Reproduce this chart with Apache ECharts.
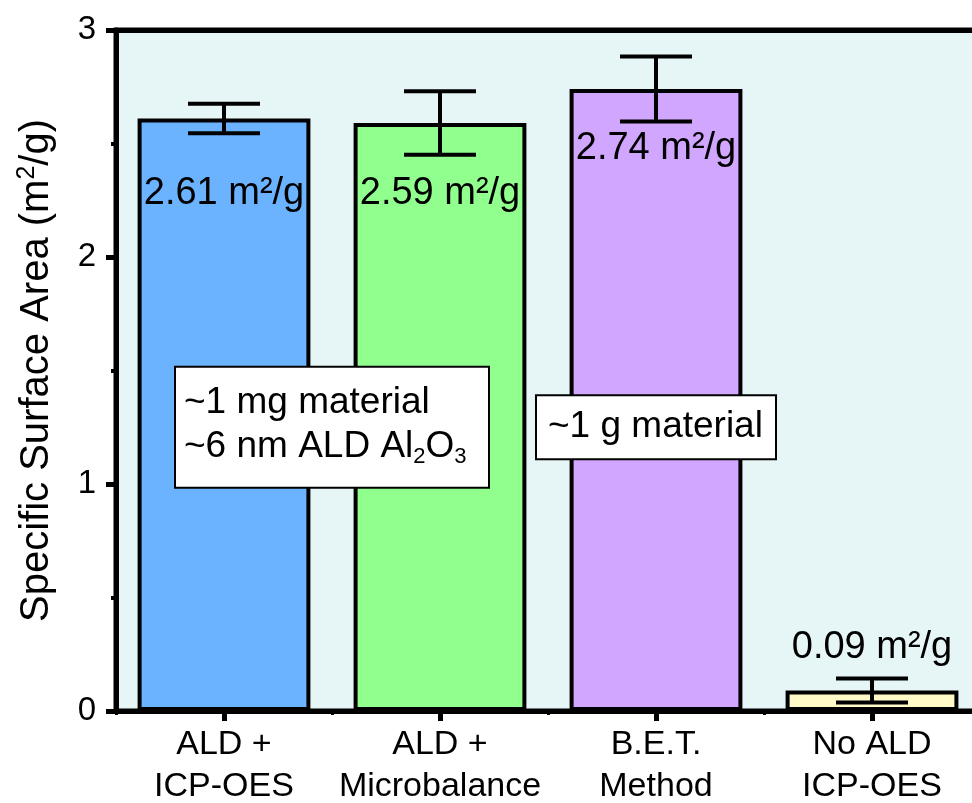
<!DOCTYPE html>
<html>
<head>
<meta charset="utf-8">
<title>Specific Surface Area</title>
<script src="https://cdn.jsdelivr.net/npm/echarts@6/dist/echarts.min.js"></script>
<style>
  html, body { margin: 0; padding: 0; background: #ffffff; }
  #chart { width: 972px; height: 803px; }
</style>
</head>
<body>
<div id="chart"></div>
<script>
// Measurement methods and results
const categories = ['ALD +\nICP-OES', 'ALD +\nMicrobalance', 'B.E.T.\nMethod', 'No ALD\nICP-OES'];
const areaValues = [2.61, 2.59, 2.74, 0.09];
const areaErrors = [0.065, 0.14, 0.143, 0.053];
const barColors = ['#6cb3ff', '#91ff8e', '#d1a6ff', '#fffac6'];
const yTicks = [0, 1, 2, 3];
const noteSmall = ['~1 mg material', '~6 nm ALD Al{sub|2}O{sub|3}'];
const noteLarge = ['~1 g material'];

const FONT = '"Liberation Sans", Arial, Helvetica, sans-serif';

const chart = echarts.init(document.getElementById('chart'), null, { renderer: 'canvas' });

// per-bar label placement: value printed inside the top of tall bars, above the short one
const labelPlacement = [
  { position: 'insideTop', distance: 56 },
  { position: 'insideTop', distance: 51 },
  { position: 'insideTop', distance: 40 },
  { position: 'top', distance: 24 }
];

const barData = areaValues.map((v, i) => ({
  value: v,
  itemStyle: { color: barColors[i] },
  label: labelPlacement[i]
}));

const errorData = areaValues.map((v, i) => [i, v - areaErrors[i], v + areaErrors[i]]);

chart.setOption({
  animation: false,
  grid: {
    left: 116,
    top: 30,
    width: 864,
    bottom: 92,
    outerBoundsMode: 'none',
    containLabel: false,
    show: true,
    backgroundColor: '#e6f5f6',
    borderColor: '#000',
    borderWidth: 5
  },
  xAxis: [
    {
      type: 'category',
      data: categories,
      axisLine: { show: true, onZero: false, lineStyle: { color: '#000', width: 5 } },
      axisTick: { show: true, alignWithLabel: true, length: 10, lineStyle: { color: '#000', width: 5 } },
      axisLabel: {
        color: '#000',
        fontFamily: FONT,
        fontSize: 34,
        lineHeight: 42,
        margin: 13,
        interval: 0
      },
      splitLine: { show: false }
    },
    {
      // short ticks on the category boundaries
      type: 'category',
      data: categories,
      position: 'bottom',
      axisLine: { show: false },
      axisTick: { show: true, length: 4, lineStyle: { color: '#000', width: 3 } },
      axisLabel: { show: false },
      splitLine: { show: false }
    },
    {
      // plain frame line along the top edge
      type: 'category',
      data: categories,
      position: 'top',
      axisLine: { show: true, lineStyle: { color: '#000', width: 5 } },
      axisTick: { show: false },
      axisLabel: { show: false },
      splitLine: { show: false }
    }
  ],
  yAxis: {
    type: 'value',
    min: yTicks[0],
    max: yTicks[yTicks.length - 1],
    interval: 1,
    name: 'Specific Surface Area (m{sup|2}/g)',
    nameLocation: 'middle',
    nameRotate: 90,
    nameGap: 55,
    nameTextStyle: {
      color: '#000',
      fontFamily: FONT,
      fontSize: 40,
      lineHeight: 48,
      rich: {
        sup: { fontFamily: FONT, fontSize: 25, lineHeight: 25, padding: [0, 0, 20, 0], color: '#000' }
      }
    },
    axisLine: { show: true, lineStyle: { color: '#000', width: 5 } },
    axisTick: { show: true, length: 10, lineStyle: { color: '#000', width: 5 } },
    minorTick: { show: true, splitNumber: 2, length: 5, lineStyle: { color: '#000', width: 4 } },
    axisLabel: {
      color: '#000',
      fontFamily: FONT,
      fontSize: 33,
      margin: 20,
      formatter: v => (yTicks.includes(v) ? String(v) : '')
    },
    splitLine: { show: false }
  },
  series: [
    {
      type: 'bar',
      data: barData,
      barWidth: '80%',
      itemStyle: { borderColor: '#000', borderWidth: 4 },
      label: {
        show: true,
        color: '#000',
        fontFamily: FONT,
        fontSize: 38,
        formatter: p => p.value.toFixed(2) + ' m²/g'
      },
      z: 2
    },
    {
      type: 'custom',
      data: errorData,
      z: 5,
      renderItem: function (params, api) {
        const idx = api.value(0);
        const lo = api.coord([idx, api.value(1)]);
        const hi = api.coord([idx, api.value(2)]);
        const half = 36;
        const style = { stroke: '#000', lineWidth: 4 };
        return {
          type: 'group',
          children: [
            { type: 'line', shape: { x1: lo[0], y1: lo[1], x2: hi[0], y2: hi[1] }, style },
            { type: 'line', shape: { x1: hi[0] - half, y1: hi[1], x2: hi[0] + half, y2: hi[1] }, style },
            { type: 'line', shape: { x1: lo[0] - half, y1: lo[1], x2: lo[0] + half, y2: lo[1] }, style }
          ]
        };
      },
      encode: { x: 0, y: [1, 2] }
    }
  ]
});

// note boxes placed in data space, text left-aligned inside a fixed-width box
const noteY = 1.25;
const p0 = chart.convertToPixel({ xAxisIndex: 0, yAxisIndex: 0 }, [0, noteY]);
const p1 = chart.convertToPixel({ xAxisIndex: 0, yAxisIndex: 0 }, [1, noteY]);
const p2 = chart.convertToPixel({ xAxisIndex: 0, yAxisIndex: 0 }, [2, noteY]);

const boxStyle = {
  fill: '#000',
  font: '37px ' + FONT,
  backgroundColor: '#ffffff',
  borderColor: '#000',
  borderWidth: 2,
  align: 'left',
  verticalAlign: 'middle',
  lineHeight: 44
};

const box1W = 294, box1Pad = [13, 10, 18, 8];
const box2W = 216, box2Pad = [9, 11, 9, 11];

chart.setOption({
  graphic: [
    {
      type: 'text',
      x: (p0[0] + p1[0]) / 2 - (box1W + box1Pad[1] + box1Pad[3]) / 2,
      y: p0[1],
      z: 10,
      style: Object.assign({}, boxStyle, {
        text: noteSmall.join('\n'),
        width: box1W,
        padding: box1Pad,
        rich: {
          sub: { font: '22px ' + FONT, fill: '#000', lineHeight: 22, padding: [20, 0, 0, 0] }
        }
      })
    },
    {
      type: 'text',
      x: p2[0] - (box2W + box2Pad[1] + box2Pad[3]) / 2,
      y: p2[1],
      z: 10,
      style: Object.assign({}, boxStyle, {
        text: noteLarge.join('\n'),
        width: box2W,
        padding: box2Pad
      })
    }
  ]
});
</script>
</body>
</html>
